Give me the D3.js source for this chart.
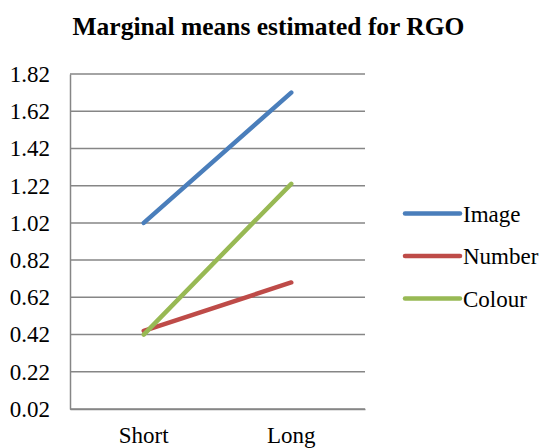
<!DOCTYPE html>
<html>
<head>
<meta charset="utf-8">
<script src="https://cdn.jsdelivr.net/npm/d3@7"></script>
<style>
  html, body { margin: 0; padding: 0; background: #fff; }
</style>
</head>
<body>
<svg id="chart" width="544" height="448"></svg>
<script>
// Marginal means of RGO by duration and stimulus type
const categories = ["Short", "Long"];
const seriesNames = ["Image", "Number", "Colour"];
const imageValues = [1.02, 1.72];
const numberValues = [0.44, 0.70];
const colourValues = [0.42, 1.23];
const tickValues = [0.02, 0.22, 0.42, 0.62, 0.82, 1.02, 1.22, 1.42, 1.62, 1.82];
const seriesColors = ["#4A7EBB", "#BE4B48", "#98B954"];

const FONT = "Liberation Serif";

const series = [
  { name: seriesNames[0], values: imageValues, color: seriesColors[0] },
  { name: seriesNames[1], values: numberValues, color: seriesColors[1] },
  { name: seriesNames[2], values: colourValues, color: seriesColors[2] }
];

const svg = d3.select("#chart");
const plot = { left: 70, right: 365, top: 74, bottom: 409 };

const x = d3.scaleBand().domain(categories).range([plot.left, plot.right]);
const y = d3.scaleLinear().domain([0.02, 1.82]).range([plot.bottom, plot.top]);

// Title
svg.append("text")
  .attr("x", 268.5).attr("y", 35)
  .attr("text-anchor", "middle")
  .attr("font-family", FONT)
  .attr("font-size", 25.5).attr("font-weight", "bold")
  .text("Marginal means estimated for RGO");

// Horizontal gridlines
svg.append("g").selectAll("line")
  .data(tickValues)
  .join("line")
  .attr("x1", plot.left).attr("x2", plot.right)
  .attr("y1", d => y(d)).attr("y2", d => y(d))
  .attr("stroke", "#868686").attr("stroke-width", 1.5);

// Y axis
const yAxis = svg.append("g")
  .attr("transform", `translate(${plot.left},0)`)
  .call(d3.axisLeft(y).tickValues(tickValues).tickFormat(d3.format(".2f")).tickSize(0).tickPadding(20))
  .attr("font-family", FONT).attr("font-size", 23);
yAxis.select(".domain").attr("stroke", "#868686").attr("stroke-width", 1.5);
yAxis.selectAll("text").attr("fill", "#000");

// X axis
const xAxis = svg.append("g")
  .attr("transform", `translate(0,${plot.bottom})`)
  .call(d3.axisBottom(x).tickSize(0).tickPadding(18))
  .attr("font-family", FONT).attr("font-size", 23);
xAxis.select(".domain").attr("stroke", "#868686").attr("stroke-width", 1.5);
xAxis.selectAll("text").attr("fill", "#000");

// Series lines
const line = d3.line()
  .x((d, i) => x(categories[i]) + x.bandwidth() / 2)
  .y(d => y(d));

svg.append("g").selectAll("path")
  .data(series)
  .join("path")
  .attr("d", d => line(d.values))
  .attr("fill", "none")
  .attr("stroke", d => d.color)
  .attr("stroke-width", 4.5)
  .attr("stroke-linecap", "round");

// Legend
const legend = svg.append("g")
  .attr("font-family", FONT).attr("font-size", 23)
  .selectAll("g")
  .data(series)
  .join("g")
  .attr("transform", (d, i) => `translate(405,${213.5 + i * 42.5})`);
legend.append("line")
  .attr("x1", 0).attr("x2", 55)
  .attr("stroke", d => d.color)
  .attr("stroke-width", 4.5)
  .attr("stroke-linecap", "round");
legend.append("text")
  .attr("x", 58).attr("dy", "0.35em")
  .text(d => d.name);
</script>
</body>
</html>
